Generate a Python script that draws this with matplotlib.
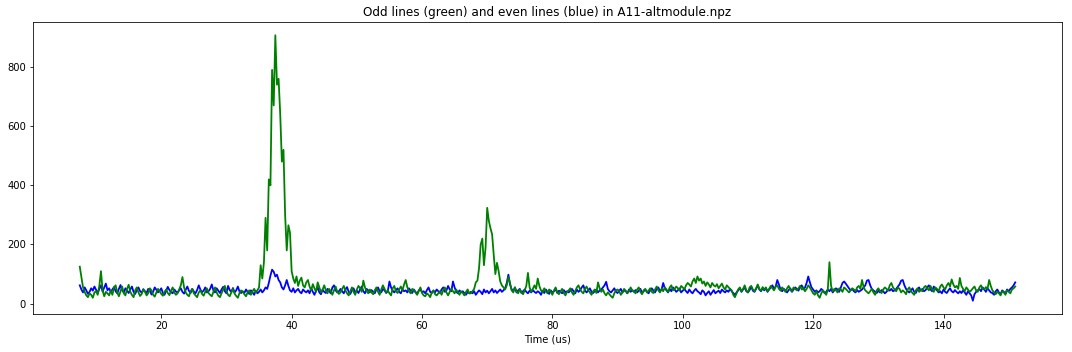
import numpy as np
import matplotlib
matplotlib.use("Agg")
import matplotlib.pyplot as plt

# sampling grid (us)
t_start = 7.5
t_step = 0.25

# even lines (blue), 20 samples per 5 us
even_lines = [
    62, 48, 38, 55, 45, 33, 40, 52, 44, 58, 47, 36, 50, 62, 41, 55, 68, 45, 52, 40,
    48, 56, 42, 35, 50, 63, 45, 38, 52, 44, 36, 48, 58, 40, 33, 46, 55, 42, 37, 49,
    42, 36, 50, 45, 31, 40, 55, 47, 38, 44, 52, 36, 30, 43, 57, 46, 39, 35, 48, 41,
    38, 45, 52, 40, 34, 47, 58, 43, 36, 50, 41, 35, 46, 62, 48, 39, 44, 55, 38, 42,
    50, 65, 45, 38, 52, 44, 36, 48, 57, 42, 35, 60, 46, 40, 53, 38, 45, 58, 41, 36,
    42, 36, 48, 40, 33, 45, 38, 30, 44, 35, 40, 48, 38, 45, 55, 50, 70, 95, 115, 108,
    92, 98, 80, 72, 55, 48, 62, 80, 60, 45, 40, 52, 38, 45, 50, 40, 35, 48, 42, 38,
    45, 35, 52, 40, 30, 44, 55, 38, 32, 47, 40, 36, 50, 43, 35, 55, 62, 45, 38, 42,
    50, 42, 35, 48, 56, 40, 33, 45, 52, 38, 44, 36, 48, 58, 42, 35, 50, 45, 38, 46,
    40, 35, 48, 55, 42, 38, 50, 45, 36, 42, 75, 55, 44, 38, 46, 52, 40, 35, 48, 42,
    45, 38, 52, 44, 36, 48, 40, 33, 45, 50, 38, 42, 35, 46, 55, 40, 36, 44, 38, 48,
    42, 36, 48, 55, 40, 45, 60, 48, 42, 75, 55, 40, 35, 45, 38, 42, 36, 30, 40, 35,
    40, 35, 42, 30, 38, 45, 40, 32, 48, 38, 44, 35, 42, 50, 38, 45, 36, 42, 48, 40,
    45, 52, 70, 98, 65, 48, 42, 55, 38, 45, 50, 36, 42, 48, 40, 35, 44, 38, 46, 40,
    36, 42, 38, 30, 44, 36, 48, 40, 33, 45, 38, 42, 50, 36, 44, 40, 35, 46, 38, 42,
    38, 44, 50, 42, 35, 48, 40, 45, 55, 62, 44, 38, 46, 52, 40, 36, 42, 48, 38, 45,
    48, 55, 62, 74, 50, 42, 38, 45, 52, 40, 36, 44, 50, 38, 45, 42, 35, 48, 40, 46,
    40, 46, 38, 44, 50, 36, 42, 48, 40, 35, 45, 52, 44, 38, 50, 55, 42, 48, 70, 52,
    45, 38, 50, 42, 55, 48, 40, 45, 52, 38, 44, 50, 42, 36, 48, 40, 35, 44, 50, 42,
    38, 32, 45, 40, 28, 36, 42, 30, 38, 46, 35, 40, 44, 36, 48, 42, 38, 45, 40, 50,
    42, 36, 30, 38, 45, 52, 40, 48, 55, 42, 38, 46, 58, 44, 40, 50, 62, 48, 42, 52,
    45, 52, 40, 48, 55, 62, 50, 58, 80, 65, 48, 42, 50, 45, 38, 46, 52, 40, 48, 55,
    50, 44, 58, 62, 48, 55, 70, 92, 72, 55, 48, 40, 45, 38, 42, 50, 44, 36, 40, 48,
    42, 50, 38, 45, 52, 48, 40, 55, 70, 75, 68, 60, 52, 45, 50, 42, 38, 46, 40, 44,
    48, 55, 62, 78, 80, 62, 50, 45, 40, 36, 44, 38, 46, 42, 35, 40, 48, 44, 50, 42,
    45, 50, 58, 65, 78, 80, 62, 50, 42, 38, 45, 52, 40, 36, 48, 55, 44, 50, 42, 46,
    55, 62, 48, 42, 58, 50, 45, 38, 42, 35, 48, 40, 36, 45, 52, 42, 38, 46, 40, 35,
    42, 36, 45, 38, 30, 42, 35, 28, 10, 32, 40, 45, 50, 42, 55, 48, 40, 52, 45, 38,
    36, 30, 42, 48, 38, 32, 45, 40, 35, 48, 42, 50, 55, 62, 72,
]

# odd lines (green)
odd_lines = [
    125, 90, 55, 40, 28, 22, 35, 30, 20, 38, 42, 30, 60, 110, 45, 25, 40, 35, 28, 44,
    30, 55, 62, 38, 25, 42, 58, 35, 28, 50, 64, 40, 30, 22, 45, 55, 38, 26, 33, 48,
    40, 28, 35, 52, 45, 30, 24, 38, 50, 42, 33, 27, 40, 48, 36, 29, 44, 55, 38, 30,
    35, 48, 62, 90, 55, 38, 30, 25, 42, 50, 35, 28, 22, 38, 45, 33, 27, 40, 52, 36,
    30, 25, 40, 55, 38, 27, 22, 35, 48, 60, 42, 30, 25, 38, 50, 34, 26, 20, 36, 45,
    40, 32, 25, 38, 45, 30, 42, 50, 38, 45, 55, 130, 85, 140, 290, 180, 420, 400, 790, 670,
    907, 740, 760, 640, 480, 520, 300, 180, 265, 240, 110, 85, 70, 92, 60, 78, 88, 62, 55, 72,
    80, 58, 45, 66, 52, 40, 72, 55, 38, 48, 62, 45, 35, 50, 42, 30, 45, 58, 40, 33,
    38, 50, 60, 45, 35, 28, 42, 55, 40, 30, 48, 60, 52, 40, 78, 55, 42, 35, 48, 38,
    32, 45, 55, 40, 30, 48, 62, 50, 38, 45, 35, 28, 52, 60, 42, 36, 48, 58, 45, 65,
    80, 55, 42, 35, 50, 45, 38, 30, 42, 55, 36, 28, 25, 35, 30, 22, 38, 45, 32, 28,
    35, 42, 30, 45, 55, 38, 28, 40, 50, 42, 35, 48, 38, 30, 42, 36, 28, 40, 48, 35,
    35, 42, 50, 72, 78, 120, 200, 220, 130, 190, 324, 280, 255, 235, 165, 100, 138, 110, 75, 62,
    55, 48, 62, 90, 70, 45, 38, 55, 42, 35, 48, 40, 32, 45, 60, 104, 55, 40, 50, 62,
    50, 85, 60, 45, 38, 52, 42, 35, 48, 40, 30, 45, 55, 38, 32, 42, 50, 36, 28, 40,
    45, 52, 38, 30, 42, 55, 62, 48, 40, 35, 50, 58, 45, 38, 30, 42, 48, 36, 72, 52,
    40, 48, 35, 28, 38, 32, 25, 20, 35, 45, 48, 42, 30, 38, 50, 44, 36, 42, 55, 45,
    42, 35, 48, 55, 40, 32, 45, 50, 38, 44, 52, 40, 36, 48, 58, 45, 38, 50, 42, 55,
    48, 40, 55, 62, 45, 50, 58, 52, 44, 60, 55, 48, 62, 70, 65, 58, 75, 85, 70, 92,
    78, 85, 68, 75, 60, 72, 65, 55, 70, 62, 58, 66, 52, 60, 68, 55, 48, 62, 56, 50,
    45, 30, 22, 35, 48, 55, 42, 50, 62, 45, 38, 55, 60, 48, 42, 52, 65, 50, 44, 56,
    48, 55, 42, 50, 60, 52, 45, 58, 62, 50, 44, 55, 48, 40, 52, 60, 46, 42, 55, 50,
    45, 52, 60, 48, 55, 42, 50, 62, 55, 45, 35, 30, 42, 28, 20, 35, 45, 38, 30, 48,
    140, 60, 42, 50, 45, 38, 52, 48, 40, 55, 50, 44, 38, 45, 52, 48, 42, 55, 60, 50,
    80, 55, 45, 40, 35, 42, 50, 38, 30, 45, 52, 42, 36, 48, 55, 50, 44, 62, 70, 55,
    48, 42, 55, 50, 38, 45, 40, 32, 48, 55, 42, 36, 30, 45, 52, 40, 48, 42, 55, 60,
    52, 45, 60, 48, 40, 55, 50, 42, 58, 65, 55, 48, 62, 70, 58, 82, 65, 55, 60, 50,
    87, 60, 50, 42, 55, 48, 40, 45, 52, 58, 45, 40, 55, 62, 50, 48, 56, 50, 80, 60,
    45, 38, 32, 40, 35, 28, 42, 38, 30, 45, 40, 35, 48, 52, 58,
]

t_even = t_start + t_step * np.arange(len(even_lines))
t_odd = t_start + t_step * np.arange(len(odd_lines))

plt.rcParams['font.size'] = 10
fig = plt.figure(figsize=(1072 / 72, 352 / 72), dpi=72)
ax = fig.add_subplot(111)
fig.subplots_adjust(left=33 / 1072, right=1062 / 1072, bottom=38 / 352, top=330 / 352)

ax.plot(t_even, even_lines, color='b', linewidth=1.8)
ax.plot(t_odd, odd_lines, color='g', linewidth=1.8)
ax.set_title("Odd lines (green) and even lines (blue) in A11-altmodule.npz")
ax.set_xlabel("Time (us)")

fig.savefig("out.png", dpi=72)
